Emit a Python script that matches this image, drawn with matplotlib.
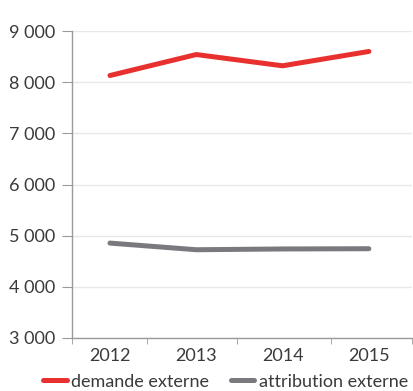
import matplotlib
matplotlib.use("Agg")
import matplotlib.pyplot as plt
from matplotlib.ticker import FuncFormatter, FixedLocator

YEARS = ["2012", "2013", "2014", "2015"]
DEMANDE = [8130, 8540, 8320, 8600]
ATTRIBUTION = [4855, 4725, 4740, 4745]
SERIES_LABELS = ["demande externe", "attribution externe"]
Y_TICKS = [3000, 4000, 5000, 6000, 7000, 8000, 9000]

RED = "#e8312f"
GREY = "#7a797e"
TEXT = "#3a3a3a"

plt.rcParams["font.family"] = ["Lato", "DejaVu Sans"]

fig = plt.figure(figsize=(4.14, 3.91), dpi=100)
ax = fig.add_axes([72 / 414, 53 / 391, 340 / 414, 307 / 391])

x = list(range(len(YEARS)))
ax.plot(x, DEMANDE, color=RED, linewidth=3.6, solid_capstyle="round",
        solid_joinstyle="round", label=SERIES_LABELS[0])
ax.plot(x, ATTRIBUTION, color=GREY, linewidth=3.6, solid_capstyle="round",
        solid_joinstyle="round", label=SERIES_LABELS[1])

ax.set_xlim(-0.44, 3.5)
ax.set_ylim(Y_TICKS[0], Y_TICKS[-1])
ax.set_yticks(Y_TICKS)
ax.yaxis.set_major_formatter(FuncFormatter(lambda v, _: f"{v:,.0f}".replace(",", " ")))
ax.set_xticks(x)
ax.set_xticklabels(YEARS)
ax.xaxis.set_minor_locator(FixedLocator([-0.44, 0.43, 1.47, 2.56, 3.5]))

ax.grid(axis="y", color="#e8e8e8", linewidth=1.0)
ax.set_axisbelow(True)
for side in ("top", "right"):
    ax.spines[side].set_visible(False)
for side in ("left", "bottom"):
    ax.spines[side].set_color("#9a9a9a")
    ax.spines[side].set_linewidth(1.0)

ax.tick_params(axis="y", length=7, color="#9a9a9a", labelsize=13, labelcolor=TEXT, pad=5)
ax.tick_params(axis="x", which="major", length=0, labelsize=13, labelcolor=TEXT, pad=7)
ax.tick_params(axis="x", which="minor", length=4, color="#9a9a9a")

fig.legend(loc="center", bbox_to_anchor=(0.545, 0.024), ncol=2, frameon=False,
           fontsize=13, labelcolor=TEXT, handlelength=1.3, handletextpad=0.25,
           columnspacing=1.2)

fig.savefig("out.png", dpi=100)
